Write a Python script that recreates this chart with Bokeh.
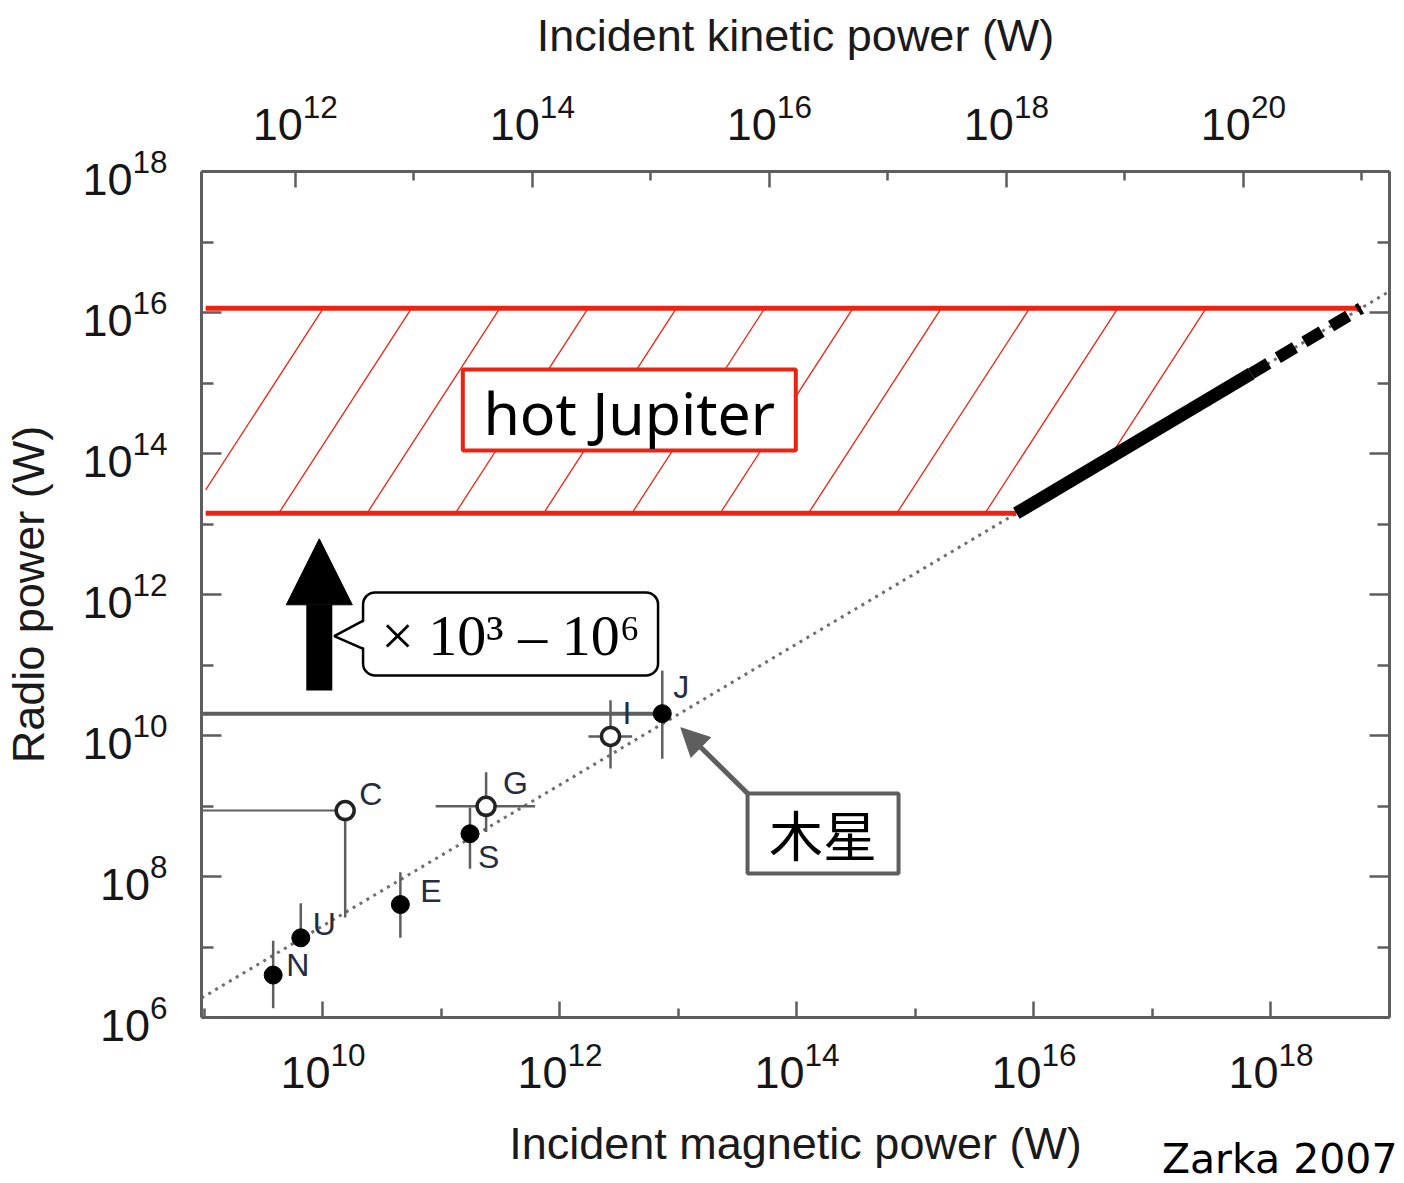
import math
from bokeh.plotting import figure
from bokeh.models import (Range1d, LogAxis, LogScale, FixedTicker, CustomJSTickFormatter,
                          LogTickFormatter, Arrow, NormalHead, Title)
from bokeh.core.properties import value
from bokeh.embed import file_html
from bokeh.resources import INLINE

nan = float("nan")

# ---------------- data ----------------
bodies = ["N", "U", "E", "S", "G", "C", "I", "J"]
magnetic_power = [3.8e9, 6.5e9, 4.5e10, 1.74e11, 2.38e11, 1.54e10, 2.67e12, 7.3e12]
radio_power = [4.0e6, 1.35e7, 4.0e7, 4.04e8, 9.9e8, 8.6e8, 9.7e9, 2.04e10]
radio_low = [1.35e6, 1.0e7, 1.35e7, 1.29e8, 4.27e8, 2.63e7, 3.39e9, 4.68e9]
radio_high = [1.23e7, 4.17e7, 1.15e8, 9.55e8, 3.02e9, 8.6e8, 3.16e10, 8.32e10]
mag_low = [nan, nan, nan, nan, 8.93e10, 9.44e8, 1.74e12, nan]
mag_high = [nan, nan, nan, nan, 6.17e11, 1.54e10, 4.07e12, nan]
filled = [True, True, True, True, False, False, False, True]

radio_efficiency = 2e-3                      # radio power = 2e-3 * incident power
hot_jupiter_mag = [7.1e15, 6.8e17, 5.75e18]  # start, end solid, end dashed
kinetic_over_magnetic = 10 ** 2.233

x_ticks = [1e10, 1e12, 1e14, 1e16, 1e18]
x_minor = [1e9, 1e11, 1e13, 1e15, 1e17, 1e19]
top_ticks = [1e12, 1e14, 1e16, 1e18, 1e20]
top_minor = [1e11, 1e13, 1e15, 1e17, 1e19, 1e21]
y_ticks = [1e6, 1e8, 1e10, 1e12, 1e14, 1e16, 1e18]
y_minor = [1e7, 1e9, 1e11, 1e13, 1e15, 1e17]

# ---------------- figure ----------------
X0, X1 = 10 ** 8.975, 10 ** 19.0
Y0, Y1 = 1e6, 1e18
GRAY = "#5e5e5e"
RED = "#ec2312"

p = figure(width=1404, height=1183, x_axis_type="log", y_axis_type="log",
           x_range=Range1d(X0, X1), y_range=Range1d(Y0, Y1),
           output_backend="svg", toolbar_location=None,
           min_border_left=200, min_border_right=15, min_border_top=171,
           min_border_bottom=166)
p.outline_line_color = None
p.xgrid.visible = False
p.ygrid.visible = False
p.background_fill_color = "white"
p.border_fill_color = "white"

p.extra_x_ranges = {"kin": Range1d(X0 * kinetic_over_magnetic, X1 * kinetic_over_magnetic)}
p.extra_x_scales = {"kin": LogScale()}

NOLAB = CustomJSTickFormatter(code="return '';")


def style_axis(ax, major_in, minor_in):
    ax.axis_line_color = GRAY
    ax.axis_line_width = 3
    ax.major_tick_line_color = GRAY
    ax.major_tick_line_width = 2.5
    ax.minor_tick_line_color = GRAY
    ax.minor_tick_line_width = 2.5
    ax.major_tick_in = major_in
    ax.major_tick_out = 0
    ax.minor_tick_in = minor_in
    ax.minor_tick_out = 0
    ax.major_label_text_font = "Liberation Sans"
    ax.major_label_text_font_size = "45px"
    ax.major_label_text_color = "#151515"
    ax.axis_label_text_font = "Liberation Sans"
    ax.axis_label_text_font_size = "45px"
    ax.axis_label_text_font_style = "normal"
    ax.axis_label_text_color = "#1a1a1a"


bottom = p.xaxis[0]
bottom.ticker = FixedTicker(ticks=x_ticks, minor_ticks=x_minor)
bottom.formatter = LogTickFormatter()
bottom.axis_label = "Incident magnetic power (W)"
style_axis(bottom, 16, 9)
bottom.major_label_standoff = 24
bottom.axis_label_standoff = 27

left = p.yaxis[0]
left.ticker = FixedTicker(ticks=y_ticks, minor_ticks=y_minor)
left.formatter = LogTickFormatter()
left.axis_label = "Radio power (W)"
style_axis(left, 20, 12)
left.major_label_standoff = 34
left.axis_label_standoff = 25

top = LogAxis(x_range_name="kin", axis_label="Incident kinetic power (W)",
              ticker=FixedTicker(ticks=top_ticks, minor_ticks=top_minor),
              formatter=LogTickFormatter())
style_axis(top, 16, 9)
top.major_label_standoff = 32
top.axis_label_standoff = 30
p.add_layout(top, "above")

right = LogAxis(ticker=FixedTicker(ticks=y_ticks, minor_ticks=y_minor), formatter=NOLAB)
style_axis(right, 20, 12)
right.major_label_text_font_size = "1px"
p.add_layout(right, "right")

# ---------------- hot Jupiter band ----------------
band_bottom = radio_efficiency * hot_jupiter_mag[0]
band_top = radio_efficiency * hot_jupiter_mag[2]
band_left = 10 ** 9.01

lo, hi = math.log10(band_bottom), math.log10(band_top)
c = math.log10(radio_efficiency)
HATCH_PHASE, HATCH_STEP, HATCH_RUN, HATCH_STOP = 8.882, 0.745, 1.121, 17.5
slope = (hi - lo) / HATCH_RUN
xl = math.log10(band_left)
xblk = math.log10(hot_jupiter_mag[0])
hx, hy = [], []
k = 0
while True:
    xb = HATCH_PHASE + k * HATCH_STEP
    k += 1
    xt = xb + HATCH_RUN
    if xt > HATCH_STOP:
        break
    if xb < xl:
        x0 = xl
        y0 = lo + slope * (xl - xb)
    elif xb > xblk:
        x0 = (slope * xb + c - lo) / (slope - 1)
        y0 = x0 + c
    else:
        x0, y0 = xb, lo
    hx.append([10 ** x0, 10 ** xt])
    hy.append([10 ** y0, 10 ** hi])
p.multi_line(hx, hy, line_color=RED, line_width=1.3)

# dotted relation
p.line([X0, X1], [radio_efficiency * X0, radio_efficiency * X1],
       line_color="#6e6e6e", line_width=3, line_dash="3 5")

# red band edges
p.segment(x0=[band_left, band_left], y0=[band_top, band_bottom],
          x1=[hot_jupiter_mag[2], hot_jupiter_mag[0]], y1=[band_top, band_bottom],
          line_color=RED, line_width=5)

# thick extrapolation
p.line(hot_jupiter_mag[:2], [radio_efficiency * v for v in hot_jupiter_mag[:2]],
       line_color="black", line_width=13)
p.line(hot_jupiter_mag[1:], [radio_efficiency * v for v in hot_jupiter_mag[1:]],
       line_color="black", line_width=12, line_dash="20 11")

# ---------------- planets ----------------
iJ = bodies.index("J")
iC = bodies.index("C")
# Jupiter reference level and Callisto limits
p.segment(x0=[X0], y0=[radio_power[iJ]], x1=[magnetic_power[iJ]], y1=[radio_power[iJ]],
          line_color=GRAY, line_width=4)
p.segment(x0=[mag_low[iC]], y0=[radio_power[iC]], x1=[mag_high[iC]], y1=[radio_power[iC]],
          line_color=GRAY, line_width=2)

# error bars
p.segment(x0=magnetic_power, y0=radio_low, x1=magnetic_power, y1=radio_high,
          line_color=GRAY, line_width=2.5)
hx0 = [a for a, b in zip(mag_low, bodies) if b != "C" and a == a]
hx1 = [a for a, b in zip(mag_high, bodies) if b != "C" and a == a]
hyy = [r for r, a, b in zip(radio_power, mag_low, bodies) if b != "C" and a == a]
p.segment(x0=hx0, y0=hyy, x1=hx1, y1=hyy, line_color=GRAY, line_width=2.5)

fx = [m for m, f in zip(magnetic_power, filled) if f]
fy = [r for r, f in zip(radio_power, filled) if f]
ox = [m for m, f in zip(magnetic_power, filled) if not f]
oy = [r for r, f in zip(radio_power, filled) if not f]
p.scatter(fx, fy, size=18, fill_color="black", line_color="black")
p.scatter(ox, oy, size=18, fill_color="white", line_color="#222222", line_width=3.5)

label_dx = [13, 12, 20, 8, 17, 14, 12, 11]
label_dy = [-10, -14, -14, 23, -23, -17, -23, -27]
p.text(magnetic_power, radio_power, text=bodies, x_offset=label_dx, y_offset=label_dy,
       text_font=value("Liberation Sans"), text_font_size="32px", text_color="#262c40",
       text_align="left", text_baseline="middle")

# ---------------- annotations ----------------
# hot Jupiter label
p.rect([10 ** 12.585], [10 ** 14.617], width=333, height=81, width_units="screen",
       height_units="screen", fill_color="white", line_color=RED, line_width=4)
p.text([10 ** 12.585], [10 ** 14.617], text=["hot Jupiter"], text_font=value("Noto Sans"),
       text_font_size="59px", text_color="black", text_align="center",
       text_baseline="middle", y_offset=[2])

# big up arrow
p.add_layout(Arrow(end=NormalHead(size=66, fill_color="black", line_color="black", line_width=1),
                   x_start=10 ** 9.969, y_start=10 ** 10.64, x_end=10 ** 9.969, y_end=10 ** 12.79,
                   line_width=26, line_color="black", line_cap="butt"))

# callout
cx, cy = 10 ** 11.583, 10 ** 11.44
p.rect([cx], [cy], width=295, height=83, width_units="screen", height_units="screen",
       fill_color="white", line_color="black", line_width=2.5, border_radius=12)
p.patch([10 ** 10.37, 10 ** 10.095, 10 ** 10.37], [10 ** 11.63, 10 ** 11.41, 10 ** 11.23],
        fill_color="white", line_color=None)
p.line([10 ** 10.34, 10 ** 10.095, 10 ** 10.34], [10 ** 11.63, 10 ** 11.41, 10 ** 11.23],
       line_color="black", line_width=2.5)
p.text([cx], [cy], text=["\u00d7 10\u00b3 \u2013 10\u2076"], text_font=value("Liberation Serif"),
       text_font_size="58px", text_color="black", text_align="center", text_baseline="middle",
       y_offset=[2])

# Jupiter (木星) label
p.add_layout(Arrow(end=NormalHead(size=28, fill_color=GRAY, line_color=GRAY, line_width=1),
                   x_start=10 ** 13.584, y_start=10 ** 9.177, x_end=10 ** 13.02, y_end=10 ** 10.11,
                   line_width=5, line_color=GRAY))
p.rect([10 ** 14.22], [10 ** 8.61], width=151, height=80, width_units="screen",
       height_units="screen", fill_color="white", line_color=GRAY, line_width=4)
p.text([10 ** 14.22], [10 ** 8.61], text=["木星"], text_font=value("Noto Sans CJK JP"),
       text_font_size="54px", text_color="black", text_align="center", text_baseline="middle")

# source (in the bottom side panel so that it is not clipped by the frame)
src = Title(text="Zarka 2007", align="right", vertical_align="top",
            text_font="DejaVu Sans", text_font_size="41px", text_font_style="normal",
            text_color="black")
try:
    src.standoff = -73
except Exception:
    src.standoff = 0
try:
    src.offset = -8
except Exception:
    pass
p.add_layout(src, "below")

with open("out.html", "w", encoding="utf-8") as f:
    f.write(file_html(p, INLINE))
